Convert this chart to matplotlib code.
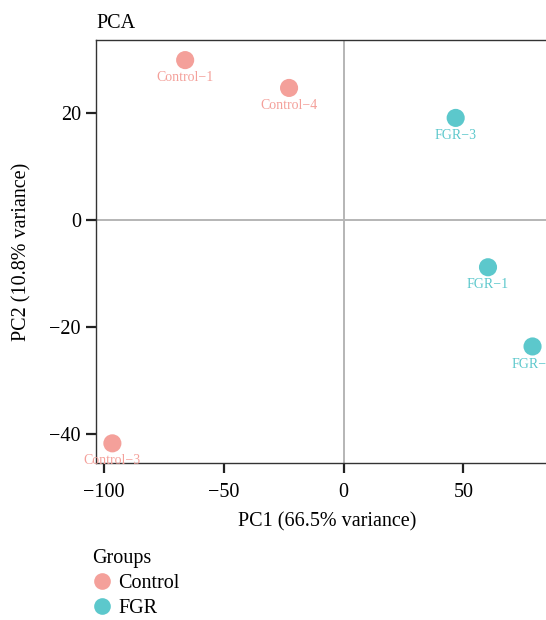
import matplotlib.pyplot as plt
from matplotlib.lines import Line2D

plt.rcParams['font.family'] = ['Liberation Serif', 'DejaVu Serif']

# PCA scores per sample
samples = ['Control-1', 'Control-4', 'Control-3', 'FGR-3', 'FGR-1', 'FGR-2']
groups = ['Control', 'Control', 'Control', 'FGR', 'FGR', 'FGR']
pc1 = [-66.2, -22.8, -96.6, 46.8, 60.3, 78.9]
pc2 = [29.9, 24.7, -41.7, 19.1, -8.8, -23.6]

colors = {'Control': '#F4A09A', 'FGR': '#5CC8CC'}

fig = plt.figure(figsize=(5.46, 6.2), dpi=100)
ax = fig.add_axes([0.176, 0.253, 0.848, 0.682])

ax.axhline(0, color='#B5B5B5', lw=1.4, zorder=1)
ax.axvline(0, color='#B5B5B5', lw=1.4, zorder=1)

for name, g, x, y in zip(samples, groups, pc1, pc2):
    ax.scatter(x, y, s=170, color=colors[g], edgecolors='none', zorder=3)
    ax.annotate(name.replace('-', '\u2212'), (x, y), xytext=(0, -8),
                textcoords='offset points', ha='center', va='top',
                fontsize=10, color=colors[g], zorder=4)

ax.set_xlim(-103.4, 90)
ax.set_ylim(-45.4, 33.6)
ax.set_xticks([-100, -50, 0, 50])
ax.set_yticks([-40, -20, 0, 20])
ax.set_xticklabels(['\u2212100', '\u221250', '0', '50'])
ax.set_yticklabels(['\u221240', '\u221220', '0', '20'])
ax.tick_params(labelsize=14.5, length=7, width=1.6, color='#222222', pad=4)
ax.tick_params(axis='x', pad=7)
for s in ax.spines.values():
    s.set_linewidth(1.0)
    s.set_color('#333333')

ax.set_xlabel('PC1 (66.5% variance)', fontsize=14.5, labelpad=8)
ax.set_ylabel('PC2 (10.8% variance)', fontsize=14.5, labelpad=13)
ax.set_title('PCA', fontsize=14.5, loc='left', pad=9)

handles = [Line2D([], [], marker='o', ls='none', markersize=12,
                  markerfacecolor=colors[g], markeredgecolor='none', label=g)
           for g in ['Control', 'FGR']]
fig.legend(handles=handles, title='Groups', loc='upper left',
           bbox_to_anchor=(0.15, 0.13), frameon=False, fontsize=14.5,
           title_fontsize=14.5, handletextpad=0.3, labelspacing=0.28,
           alignment='left', borderpad=0, handlelength=1.0)

fig.savefig('out.png', dpi=100)
